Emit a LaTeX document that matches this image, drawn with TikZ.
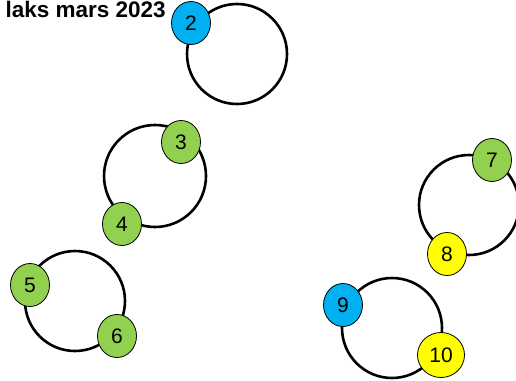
\documentclass[tikz,border=0pt]{standalone}
\usepackage{fontspec}
\setmainfont{Liberation Sans}
\usetikzlibrary{shapes.geometric}
\definecolor{fishblue}{HTML}{00B0F0}
\definecolor{fishgreen}{HTML}{92D050}
\definecolor{fishyellow}{HTML}{FFFF00}

\begin{document}
\begin{tikzpicture}[x=1pt,y=-1pt,
   ring/.style={draw,line width=2.6pt},
   fish/.style={draw,shape=ellipse,line width=0.8pt,minimum width=39pt,
     minimum height=43pt,inner sep=0pt,font=\fontsize{21}{21}\selectfont}]
   \useasboundingbox (0,0) rectangle (516,380);
   \path (166,17.5) node[anchor=base east,inner sep=0pt,
     font=\fontsize{22.5}{22.5}\selectfont\bfseries] (title) {laks mars 2023};
   % rings
   \coordinate (R1) at (237,54);
   \coordinate (R2) at (155,176);
   \coordinate (R3) at (75,301);
   \coordinate (R4) at (469,205);
   \coordinate (R5) at (392,328);
   \draw[ring] (R1) circle (50);
   \draw[ring] (R2) circle (51);
   \draw[ring] (R3) circle (50);
   \draw[ring] (R4) circle (50);
   \draw[ring] (R5) circle (50);
   % fish
   \path (191,23) node[fish,fill=fishblue] (F2) {2};
   \path (181,142) node[fish,fill=fishgreen] (F3) {3};
   \path (122,224) node[fish,fill=fishgreen] (F4) {4};
   \path (30,285) node[fish,fill=fishgreen] (F5) {5};
   \path (117,336) node[fish,fill=fishgreen] (F6) {6};
   \path (492,160) node[fish,fill=fishgreen] (F7) {7};
   \path (447,254) node[fish,fill=fishyellow] (F8) {8};
   \path (343,305) node[fish,fill=fishblue] (F9) {9};
   \path (441,355) node[fish,fill=fishyellow,minimum width=47pt,
     minimum height=45pt] (F10) {10};
\end{tikzpicture}
\end{document}
